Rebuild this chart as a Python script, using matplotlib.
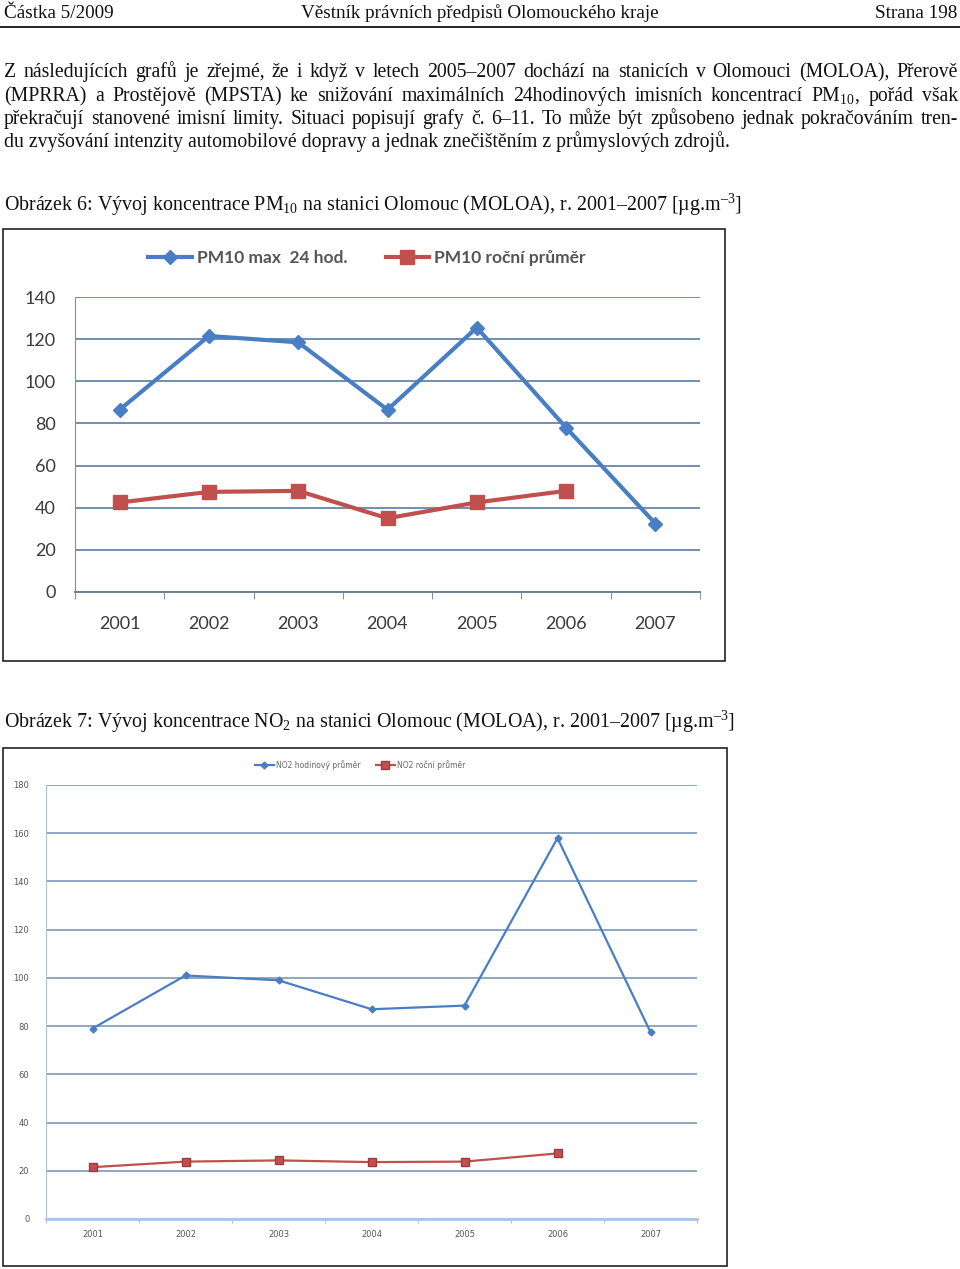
import matplotlib.pyplot as plt
from matplotlib.patches import Rectangle
from matplotlib.lines import Line2D

plt.rcParams['mathtext.fontset'] = 'custom'
plt.rcParams['mathtext.rm'] = 'Liberation Serif'
plt.rcParams['mathtext.it'] = 'Liberation Serif:italic'

# data read from the page
years = ['2001', '2002', '2003', '2004', '2005', '2006', '2007']
pm10_max = [86.5, 121.5, 118.5, 86.5, 125.5, 78, 32.5]
pm10_avg = [42.5, 47.5, 48, 35, 42.5, 48]
no2_max = [79, 101, 99, 87, 88.5, 158, 77.5]
no2_avg = [21.5, 23.8, 24.3, 23.6, 23.8, 27.2]

pm_ticks = [0, 20, 40, 60, 80, 100, 120, 140]
no2_ticks = [0, 20, 40, 60, 80, 100, 120, 140, 160, 180]

header_left = 'Částka 5/2009'
header_mid = 'Věstník právních předpisů Olomouckého kraje'
header_right = 'Strana 198'
paragraph = [
    'Z následujících grafů je zřejmé, že i když v letech 2005–2007 dochází na stanicích v Olomouci (MOLOA), Přerově',
    '(MPRRA) a Prostějově (MPSTA) ke snižování maximálních 24hodinových imisních koncentrací PM$_{\\mathrm{10}}$, pořád však',
    'překračují stanovené imisní limity. Situaci popisují grafy č. 6–11. To může být způsobeno jednak pokračováním tren-',
    'du zvyšování intenzity automobilové dopravy a jednak znečištěním z průmyslových zdrojů.',
]
caption6 = 'Obrázek 6: Vývoj koncentrace PM$_{\\mathrm{10}}$ na stanici Olomouc (MOLOA), r. 2001–2007 [µg.m$^{\\mathrm{–3}}$]'
caption7 = 'Obrázek 7: Vývoj koncentrace NO$_{\\mathrm{2}}$ na stanici Olomouc (MOLOA), r. 2001–2007 [µg.m$^{\\mathrm{–3}}$]'

W, H = 960, 1269
fig = plt.figure(figsize=(W / 100, H / 100), dpi=100)
serif = dict(family='Liberation Serif', color='#111111')


def fx(x):
    return x / W


def fy(y):
    return 1 - y / H


def justify_line(y, line, x0, x1, size):
    # place words one by one on a common baseline so the line fills x0..x1
    words = line.split(' ')
    texts = [fig.text(0, fy(y), w, fontsize=size, va='baseline', ha='left', **serif) for w in words]
    renderer = fig.canvas.get_renderer()
    widths = [t.get_window_extent(renderer).width for t in texts]
    gap = (x1 - x0 - sum(widths)) / (len(words) - 1)
    x = x0
    for t, w in zip(texts, widths):
        t.set_x(fx(x))
        x += w + gap


# header
fig.text(fx(4), fy(13), header_left, fontsize=13.8, ha='left', va='center', **serif)
fig.text(fx(480), fy(13), header_mid, fontsize=13.8, ha='center', va='center', **serif)
fig.text(fx(957), fy(13), header_right, fontsize=13.8, ha='right', va='center', **serif)
fig.add_artist(Line2D([0, 1], [fy(27), fy(27)], color='black', lw=1.2, transform=fig.transFigure))

# paragraph (baselines)
line_y = [77, 101, 124, 147]
for i, line in enumerate(paragraph):
    if i < len(paragraph) - 1:
        justify_line(line_y[i], line, 4, 958, 14.2)
    else:
        fig.text(fx(4), fy(line_y[i]), line, fontsize=14.2, ha='left', va='baseline', **serif)

fig.text(fx(4), fy(205), caption6, fontsize=14.4, ha='left', va='center', **serif)
fig.text(fx(4), fy(722), caption7, fontsize=14.4, ha='left', va='center', **serif)

# chart frames
fig.add_artist(Rectangle((fx(3), fy(661)), fx(722), (661 - 229) / H, fill=False,
                         ec='#222222', lw=1.2, transform=fig.transFigure))
fig.add_artist(Rectangle((fx(3), fy(1266)), fx(724), (1266 - 748) / H, fill=False,
                         ec='#222222', lw=1.2, transform=fig.transFigure))

blue = '#4a7ec4'
red = '#c0504d'
grid_c = '#6f8fb3'

# ---- chart 6 ----
ax1 = fig.add_axes([fx(75), fy(592), fx(700 - 75), (592 - 297) / H])
x = list(range(len(years)))
ax1.plot(x, pm10_max, color=blue, lw=3, marker='D', markersize=7, label='PM10 max  24 hod.')
ax1.plot(x[:len(pm10_avg)], pm10_avg, color=red, lw=3, marker='s', markersize=10,
         label='PM10 roční průměr')
ax1.set_xlim(-0.5, 6.5)
ax1.set_ylim(0, 140)
ax1.set_yticks(pm_ticks)
ax1.set_xticks(x)
ax1.set_xticklabels(years)
ax1.set_xticks([i + 0.5 for i in range(-1, 7)], minor=True)
ax1.tick_params(axis='x', which='major', length=0, pad=17, labelsize=13, labelcolor='#3a3a3a')
ax1.tick_params(axis='x', which='minor', length=5, direction='out', color='#6f7f90')
ax1.tick_params(axis='y', length=0, pad=14, labelsize=13, labelcolor='#3a3a3a')
for lbl in ax1.get_xticklabels() + ax1.get_yticklabels():
    lbl.set_family('Lato')
ax1.grid(axis='y', color=grid_c, lw=1.4)
ax1.set_axisbelow(True)
for s in ['top', 'right']:
    ax1.spines[s].set_visible(False)
ax1.spines['left'].set_color('#8090a0')
ax1.spines['bottom'].set_color('#6f7f90')
ax1.spines['bottom'].set_linewidth(1.4)
ax1.patch.set_alpha(0)
ax1.legend(loc='center', bbox_to_anchor=(fx(367), fy(258)), bbox_transform=fig.transFigure,
           ncol=2, frameon=False, prop={'family': 'Lato', 'size': 12.5, 'weight': 'bold'},
           labelcolor='#555555', handlelength=2.5, columnspacing=2.2, handletextpad=0.3)

# ---- chart 7 ----
ax2 = fig.add_axes([fx(46), fy(1219), fx(697 - 46), (1219 - 785) / H])
ax2.plot(x, no2_max, color=blue, lw=1.6, marker='D', markersize=3.5,
         label='NO2 hodinový průměr')
ax2.plot(x[:len(no2_avg)], no2_avg, color=red, lw=1.6, marker='s', markersize=6,
         markeredgecolor='#9c3b45', label='NO2 roční průměr')
ax2.set_xlim(-0.5, 6.5)
ax2.set_ylim(0, 180)
ax2.set_yticks(no2_ticks)
ax2.set_xticks(x)
ax2.set_xticklabels(years)
ax2.set_xticks([i + 0.5 for i in range(-1, 7)], minor=True)
ax2.tick_params(axis='x', which='major', length=0, pad=8, labelsize=6, labelcolor='#555555')
ax2.tick_params(axis='x', which='minor', length=3, direction='out', color='#a0b8d0')
ax2.tick_params(axis='y', length=0, pad=12, labelsize=6, labelcolor='#555555')
ax2.grid(axis='y', color=grid_c, lw=1.1)
ax2.set_axisbelow(True)
for s in ['top', 'right']:
    ax2.spines[s].set_visible(False)
ax2.spines['left'].set_color('#a8c0d8')
ax2.spines['bottom'].set_color('#a8c8e8')
ax2.spines['bottom'].set_linewidth(2)
ax2.patch.set_alpha(0)
ax2.legend(loc='center', bbox_to_anchor=(fx(360), fy(765)), bbox_transform=fig.transFigure,
           ncol=2, frameon=False, prop={'size': 5.5}, labelcolor='#666666',
           handlelength=2.5, columnspacing=2.0, handletextpad=0.3)

fig.savefig('out.png', dpi=100)
